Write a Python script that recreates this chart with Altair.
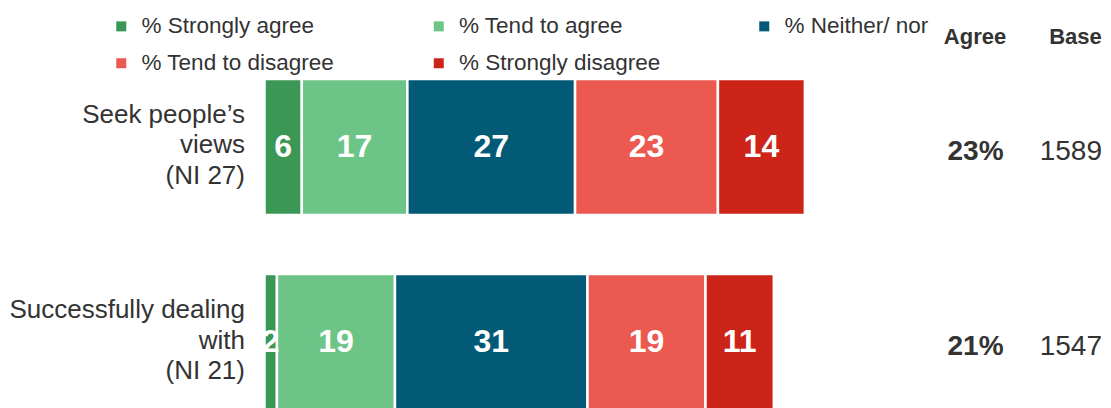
import altair as alt
import pandas as pd

ROWS = ["Seek people\u2019s\nviews\n(NI 27)", "Successfully dealing\nwith\n(NI 21)"]
RESPONSES = ["% Strongly agree", "% Tend to agree", "% Neither/ nor",
             "% Tend to disagree", "% Strongly disagree"]
COLORS = ["#3B9755", "#6CC586", "#035A77", "#EB5951", "#CC2418"]
VALUES_ROW1 = [6, 17, 27, 23, 14]
VALUES_ROW2 = [2, 19, 31, 19, 11]
AGREE = [23, 21]
BASE = [1589, 1547]
HEADERS = ["Agree", "Base"]

FONT = "Liberation Sans"
TXT = "#333333"

recs = []
for r, vals in zip(ROWS, [VALUES_ROW1, VALUES_ROW2]):
    for i, (resp, v) in enumerate(zip(RESPONSES, vals)):
        recs.append({"row": r, "response": resp, "order": i, "value": v})
df = pd.DataFrame(recs)
side = pd.DataFrame({"row": ROWS,
                     "agree": [f"{a}%" for a in AGREE],
                     "base": [str(b) for b in BASE]})

W, H = 1095, 400
xscale = alt.Scale(domain=[-41.3, 135.0], nice=False, zero=False)
yscale = alt.Scale(domain=ROWS, range=[71, 402], paddingInner=0.3026, paddingOuter=0)

base = alt.Chart(df).transform_stack(
    stack="value", groupby=["row"], as_=["x0", "x1"],
    sort=[alt.SortField("order", order="ascending")]
).transform_calculate(mid="(datum.x0 + datum.x1) / 2")

bars = base.mark_bar(stroke="white", strokeWidth=2.5).encode(
    x=alt.X("x0:Q", scale=xscale, axis=None),
    x2="x1:Q",
    y=alt.Y("row:N", scale=yscale, axis=None),
    color=alt.Color("response:N",
                    scale=alt.Scale(domain=RESPONSES, range=COLORS),
                    legend=alt.Legend(orient="none", legendX=102, legendY=7,
                                      direction="horizontal",
                                      columns=3, title=None, symbolType="square",
                                      symbolSize=100, symbolStrokeWidth=0,
                                      labelFontSize=22.5, labelFont=FONT,
                                      labelColor=TXT, labelOffset=9,
                                      columnPadding=92.5, rowPadding=14,
                                      padding=0, labelLimit=0)),
)

bar_text = base.mark_text(color="white", fontWeight="bold", fontSize=32,
                          font=FONT, baseline="middle", align="center").encode(
    x=alt.X("mid:Q", scale=xscale, axis=None),
    y=alt.Y("row:N", scale=yscale, axis=None),
    text="value:Q",
)

row_labels = alt.Chart(side).mark_text(
    align="right", baseline="middle", fontSize=26, font=FONT, color=TXT,
    lineBreak="\n", lineHeight=30.5, dy=-32).encode(
    x=alt.value(237),
    y=alt.Y("row:N", scale=yscale, axis=None),
    text="row:N",
)

agree_text = alt.Chart(side).mark_text(
    align="center", baseline="middle", fontSize=28, fontWeight="bold",
    font=FONT, color=TXT, dy=5).encode(
    x=alt.value(967.5),
    y=alt.Y("row:N", scale=yscale, axis=None),
    text="agree:N",
)

base_text = alt.Chart(side).mark_text(
    align="right", baseline="middle", fontSize=28,
    font=FONT, color=TXT, dy=5).encode(
    x=alt.value(W - 1),
    y=alt.Y("row:N", scale=yscale, axis=None),
    text="base:N",
)

hdr = pd.DataFrame({"h": HEADERS})
head_agree = alt.Chart(hdr).transform_filter(alt.datum.h == HEADERS[0]).mark_text(
    align="center", baseline="middle", fontSize=22, fontWeight="bold",
    font=FONT, color=TXT).encode(x=alt.value(967), y=alt.value(29), text="h:N")
head_base = alt.Chart(hdr).transform_filter(alt.datum.h == HEADERS[1]).mark_text(
    align="center", baseline="middle", fontSize=22, fontWeight="bold",
    font=FONT, color=TXT).encode(x=alt.value(1067.5), y=alt.value(29), text="h:N")

chart = alt.layer(bars, bar_text, row_labels, agree_text, base_text,
                  head_agree, head_base).properties(
    width=W, height=H,
    autosize=alt.AutoSizeParams(type="none"),
    padding=0,
).configure_view(stroke=None)

chart.save("out.html", embed_options={"renderer": "svg", "actions": False})
